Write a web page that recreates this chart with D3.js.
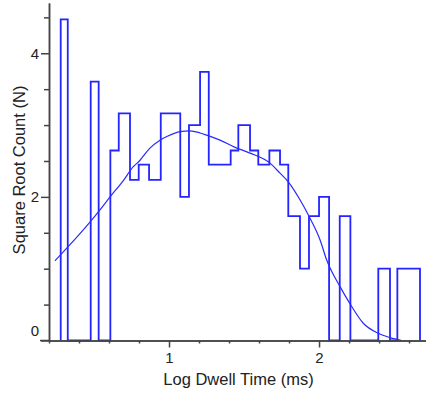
<!DOCTYPE html>
<html>
<head>
<meta charset="utf-8">
<script src="https://cdn.jsdelivr.net/npm/d3@7"></script>
<style>
  body { margin: 0; background: #fff; }
  text { font-family: "Liberation Sans", Arial, sans-serif; fill: #222; }
</style>
</head>
<body>
<div id="chart-area"></div>
<script>
// *********************
// Data
// *********************

// histogram bin edges (log dwell time, log ms)
const binEdges = [0.278, 0.325, 0.40, 0.478, 0.531, 0.609, 0.665, 0.740, 0.798, 0.867,
  0.945, 1.010, 1.075, 1.133, 1.207, 1.265, 1.338, 1.411, 1.462, 1.540,
  1.595, 1.669, 1.740, 1.795, 1.873, 1.933, 2.000, 2.067, 2.138, 2.209,
  2.271, 2.333, 2.395, 2.473, 2.522, 2.598, 2.673];

// events per bin (plotted as square root)
const binCounts = [20, 0, 0, 13, 0, 7, 10, 5, 6, 5,
  10, 10, 4, 9, 14, 6, 6, 7, 9, 7,
  6, 7, 6, 3, 1, 3, 4, 0, 3, 0,
  0, 0, 1, 0, 1, 1];

// fitted curve
const fitX = [0.24, 0.329, 0.473, 0.54, 0.607, 0.693, 0.762, 0.807, 0.84, 0.873,
  0.94, 0.985, 1.073, 1.14, 1.207, 1.251, 1.34, 1.44, 1.54, 1.673,
  1.74, 1.795, 1.873, 1.933, 2.007, 2.051, 2.14, 2.207, 2.295, 2.395,
  2.473, 2.551];
const fitY = [1.11, 1.31, 1.65, 1.82, 2.00, 2.22, 2.42, 2.51, 2.60, 2.68,
  2.79, 2.84, 2.91, 2.92, 2.89, 2.86, 2.79, 2.69, 2.61, 2.47,
  2.33, 2.21, 1.96, 1.73, 1.40, 1.12, 0.75, 0.51, 0.24, 0.10,
  0.04, 0.0];

// ticks
const xMajorTicks = [1, 2];
const xMinorTicks = [0.2, 0.4, 0.6, 0.8, 1.2, 1.4, 1.6, 1.8, 2.2, 2.4, 2.6];
const yMajorTicks = [0, 2, 4];
const yMinorTicks = [0.5, 1, 1.5, 2.5, 3, 3.5, 4.5];

// *********************
// Basic setup SVG
// *********************

const width = 426;
const height = 393;

const svg = d3.select("#chart-area")
  .append("svg")
  .attr("width", width)
  .attr("height", height);

svg.append("rect")
  .attr("width", "100%")
  .attr("height", "100%")
  .attr("fill", "white");

// *********************
// Scales
// *********************

const x = d3.scaleLinear()
  .domain([0.2, 2.713])
  .range([49, 426]);

const y = d3.scaleLinear()
  .domain([0, 4.7])
  .range([340.5, 3]);

// *********************
// Histogram and fit
// *********************

const histPoints = [[binEdges[0], 0]];
binCounts.forEach((c, i) => histPoints.push([binEdges[i], Math.sqrt(c)]));
histPoints.push([binEdges[binEdges.length - 1], 0]);

const stepLine = d3.line()
  .x(d => x(d[0]))
  .y(d => y(d[1]))
  .curve(d3.curveStepAfter);

svg.append("path")
  .datum(histPoints)
  .attr("d", stepLine)
  .attr("fill", "none")
  .attr("stroke", "#2424ff")
  .attr("stroke-width", 1.8);

const fitLine = d3.line()
  .x((d, i) => x(fitX[i]))
  .y(d => y(d))
  .curve(d3.curveMonotoneX);

svg.append("path")
  .datum(fitY)
  .attr("d", fitLine)
  .attr("fill", "none")
  .attr("stroke", "#2a2aff")
  .attr("stroke-width", 1.2);

// *********************
// Axes
// *********************

const axisColor = "#444";

// x minor
svg.append("g")
  .attr("transform", "translate(0," + y(0) + ")")
  .call(d3.axisBottom(x).tickValues(xMinorTicks).tickSize(3).tickSizeOuter(0).tickFormat(""));

// x major
const xAxisGroup = svg.append("g")
  .attr("class", "x axis")
  .attr("transform", "translate(0," + y(0) + ")")
  .call(d3.axisBottom(x).tickValues(xMajorTicks).tickSize(7).tickSizeOuter(0).tickPadding(5).tickFormat(d3.format("d")));

// y minor
svg.append("g")
  .attr("transform", "translate(" + x(0.2) + ",0)")
  .call(d3.axisLeft(y).tickValues(yMinorTicks).tickSize(5).tickSizeOuter(0).tickFormat(""));

// y major
const yAxisGroup = svg.append("g")
  .attr("class", "y axis")
  .attr("transform", "translate(" + x(0.2) + ",0)")
  .call(d3.axisLeft(y).tickValues(yMajorTicks).tickSize(8).tickSizeOuter(0).tickPadding(2).tickFormat(d3.format("d")));

// origin label sits above the x axis
yAxisGroup.selectAll(".tick text")
  .filter(d => d === 0)
  .attr("dy", "-5.5px");

svg.selectAll(".domain, .tick line")
  .attr("stroke", axisColor)
  .attr("stroke-width", 1.5);

svg.selectAll(".tick text")
  .attr("font-size", "15px")
  .attr("font-family", "'Liberation Sans', Arial, sans-serif")
  .attr("fill", "#222");

// x axis domain extends left to meet the zero tick
svg.append("line")
  .attr("x1", 40)
  .attr("x2", x(0.2))
  .attr("y1", y(0))
  .attr("y2", y(0))
  .attr("stroke", axisColor)
  .attr("stroke-width", 1.5);

// Axis labels
svg.append("text")
  .attr("x", 238.5)
  .attr("y", 385)
  .attr("font-size", "16.5px")
  .attr("text-anchor", "middle")
  .text("Log Dwell Time (ms)");

svg.append("text")
  .attr("transform", "translate(25,170) rotate(-90)")
  .attr("font-size", "16.5px")
  .attr("text-anchor", "middle")
  .text("Square Root Count (N)");
</script>
</body>
</html>
